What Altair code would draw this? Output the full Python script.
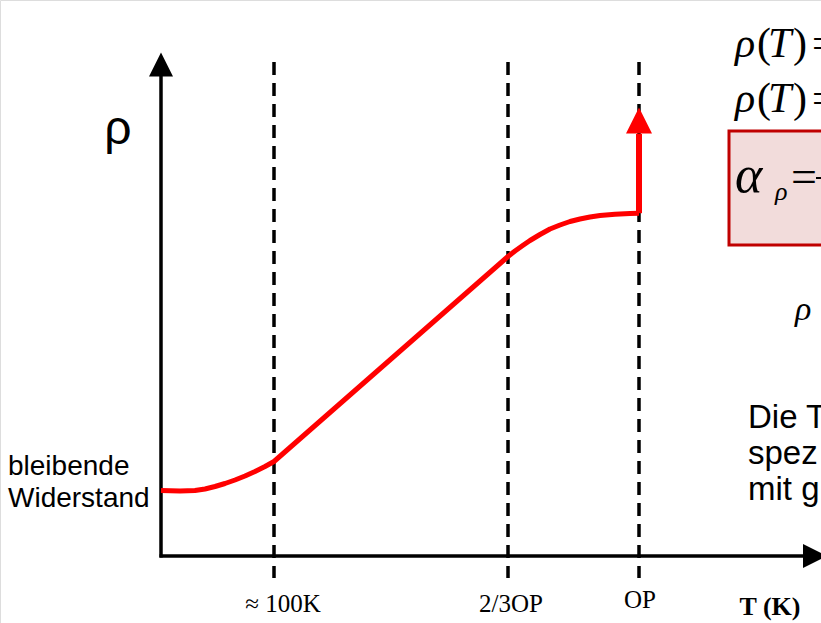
import altair as alt
import pandas as pd

# ---------------- data (schematic units: T to the right, rho upward; origin at the axis corner)
curve_T = [0, 19, 34, 44, 54, 64, 74, 84, 94, 104, 113,
           347, 354, 361, 369, 379, 389, 399, 409, 419, 429, 439, 454, 469, 478]
curve_rho = [65.5, 65, 65.5, 67, 69.5, 72.5, 76, 80, 84.5, 89.5, 94.5,
             299.5, 305, 310, 315.5, 321.5, 327, 331, 334.5, 337, 339, 340.5, 341.8, 342.5, 342.8]

jump_T = 478            # melting point OP: resistivity jumps
jump_rho = [342.8, 422]
jump_head_rho = 435.5

marker_T = [113, 347, 478]
marker_labels = ["≈ 100K", "2/3OP", "OP"]
marker_label_T = [122, 350, 479]
marker_label_rho = [-48, -48, -44]
marker_top, marker_bottom = 494, -22

axis_len_T = 642
axis_len_rho = 480
axis_head_T = 654
axis_head_rho = 491.5

res_label = ["bleibende", "Widerstand"]
res_label_rho = [89, 57]

T_DOMAIN = [-161, 660]
R_DOMAIN = [-67, 556]

W, H = 821, 623
xs = alt.Scale(domain=T_DOMAIN, range=[0, W], nice=False, zero=False)
ys = alt.Scale(domain=R_DOMAIN, range=[H, 0], nice=False, zero=False)


def X(f="T"):
    return alt.X(f"{f}:Q", scale=xs, axis=None)


def Y(f="rho"):
    return alt.Y(f"{f}:Q", scale=ys, axis=None)


SANS = "Liberation Sans"
SERIF = "Liberation Serif"

layers = []


def txt(df, **kw):
    base = dict(align="left", baseline="alphabetic", color="black")
    base.update(kw)
    return alt.Chart(df).mark_text(**base).encode(x=X(), y=Y(), text="txt:N")


# formula box (partly visible at the right edge)
box = pd.DataFrame({"T": [568], "T2": [720], "rho": [425], "rho2": [311]})
layers.append(alt.Chart(box).mark_rect(fill="#f2dcdb", stroke="#c00000", strokeWidth=3).encode(
    x=X(), x2="T2:Q", y=Y(), y2="rho2:Q"))

# dashed markers
mk = pd.DataFrame({"T": marker_T, "rho": [marker_top] * 3, "rho2": [marker_bottom] * 3})
layers.append(alt.Chart(mk).mark_rule(color="black", strokeWidth=3.5, strokeDash=[13, 8]).encode(
    x=X(), y=Y(), y2="rho2:Q"))

# axes
ax_y = pd.DataFrame({"T": [0], "rho": [-1.5], "rho2": [axis_len_rho]})
layers.append(alt.Chart(ax_y).mark_rule(color="black", strokeWidth=3.5).encode(x=X(), y=Y(), y2="rho2:Q"))
ax_x = pd.DataFrame({"T": [-1.5], "T2": [axis_len_T], "rho": [0]})
layers.append(alt.Chart(ax_x).mark_rule(color="black", strokeWidth=3.5).encode(x=X(), x2="T2:Q", y=Y()))

head_up = pd.DataFrame({"T": [0], "rho": [axis_head_rho]})
layers.append(alt.Chart(head_up).mark_point(shape="M0,-1L1,1L-1,1Z", filled=True, opacity=1, strokeWidth=0,
                                             size=576, color="black").encode(x=X(), y=Y()))
head_right = pd.DataFrame({"T": [axis_head_T], "rho": [0]})
layers.append(alt.Chart(head_right).mark_point(shape="M1,0L-1,-1L-1,1Z", filled=True, opacity=1, strokeWidth=0,
                                                size=576, color="black").encode(x=X(), y=Y()))

# resistivity curve
cv = pd.DataFrame({"T": curve_T, "rho": curve_rho})
layers.append(alt.Chart(cv).mark_line(color="#ff0000", strokeWidth=5, interpolate="linear",
                                      strokeJoin="round").encode(x=X(), y=Y()))
jp = pd.DataFrame({"T": [jump_T], "rho": [jump_rho[0]], "rho2": [jump_rho[1]]})
layers.append(alt.Chart(jp).mark_rule(color="#ff0000", strokeWidth=6).encode(x=X(), y=Y(), y2="rho2:Q"))
jh = pd.DataFrame({"T": [jump_T], "rho": [jump_head_rho]})
layers.append(alt.Chart(jh).mark_point(shape="M0,-1L1,1L-1,1Z", filled=True, opacity=1, strokeWidth=0,
                                       size=676, color="#ff0000").encode(x=X(), y=Y()))

# labels
ml = pd.DataFrame({"T": marker_label_T, "rho": marker_label_rho, "txt": marker_labels})
layers.append(txt(ml, font=SERIF, fontSize=25, align="center", baseline="middle"))
tk = pd.DataFrame({"T": [609], "rho": [-51], "txt": ["T (K)"]})
layers.append(txt(tk, font=SERIF, fontSize=26, fontWeight="bold", align="center", baseline="middle"))
rl = pd.DataFrame({"T": [-43], "rho": [412], "txt": ["ρ"]})
layers.append(txt(rl, font=SANS, fontSize=48, align="center"))
bl = pd.DataFrame({"T": [-153, -153], "rho": res_label_rho, "txt": res_label})
layers.append(txt(bl, font=SANS, fontSize=28, baseline="middle"))

# right-hand formulas: rho(T) = ... (cut off at the edge of the picture)
f_it = pd.DataFrame({"T": [574, 607, 574, 607], "rho": [499, 499, 444, 444], "txt": ["ρ", "T", "ρ", "T"]})
layers.append(txt(f_it, font=SERIF, fontSize=42, fontStyle="italic"))
f_up = pd.DataFrame({"T": [596, 632, 651, 596, 632, 651], "rho": [499, 499, 499, 444, 444, 444],
                     "txt": ["(", ")", "=", "(", ")", "="]})
layers.append(txt(f_up, font=SERIF, fontSize=42))

al = pd.DataFrame({"T": [574], "rho": [364], "txt": ["α"]})
layers.append(txt(al, font=SERIF, fontSize=52, fontStyle="italic"))
sub = pd.DataFrame({"T": [614], "rho": [356], "txt": ["ρ"]})
layers.append(txt(sub, font=SERIF, fontSize=26, fontStyle="italic"))
eq = pd.DataFrame({"T": [630], "rho": [364], "txt": ["="]})
layers.append(txt(eq, font=SERIF, fontSize=46))
fb = pd.DataFrame({"T": [655], "T2": [680], "rho": [378]})
layers.append(alt.Chart(fb).mark_rule(color="black", strokeWidth=2).encode(x=X(), x2="T2:Q", y=Y()))
r2 = pd.DataFrame({"T": [634], "rho": [236], "txt": ["ρ"]})
layers.append(txt(r2, font=SERIF, fontSize=34, fontStyle="italic"))
dt = pd.DataFrame({"T": [587, 587, 587], "rho": [128, 92, 56], "txt": ["Die T", "spez", "mit g"]})
layers.append(txt(dt, font=SANS, fontSize=33))

chart = alt.layer(*layers).properties(
    width=W, height=H, padding=0, autosize=alt.AutoSizeParams(type="none")
).configure_view(stroke=None).configure(background="white")

chart.save("out.html", embed_options={"renderer": "svg", "actions": False})
